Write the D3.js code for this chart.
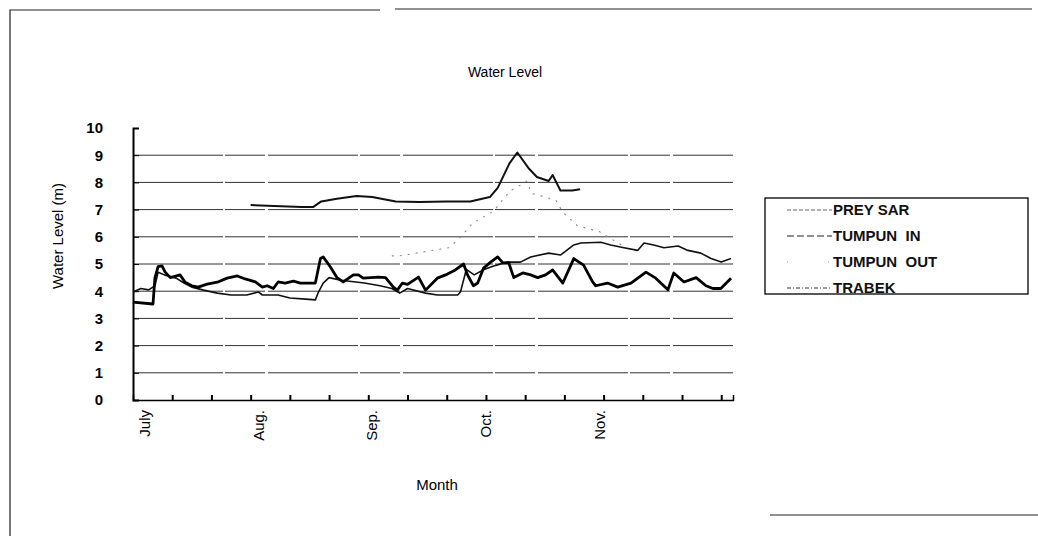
<!DOCTYPE html>
<html>
<head>
<meta charset="utf-8">
<script src="https://cdn.jsdelivr.net/npm/d3@7"></script>
<style>
  body { margin: 0; background: #fff; }
  svg { display: block; font-family: "Liberation Sans", Arial, sans-serif; }
</style>
</head>
<body>
<svg id="stage" width="1038" height="536"></svg>
<script>
// values; x is days since 1 July
const seriesNames = ["PREY SAR", "TUMPUN  IN", "TUMPUN  OUT", "TRABEK"];

const preySar = [
  [30, 7.17], [36, 7.13], [43, 7.1], [46, 7.1], [48, 7.3], [52, 7.4], [57, 7.5],
  [61, 7.46], [67, 7.3], [73, 7.28], [80, 7.3], [86, 7.3], [91, 7.46], [93, 7.8],
  [96, 8.7], [98, 9.1], [101, 8.5], [103, 8.2], [106, 8.05], [107, 8.27],
  [109, 7.7], [112, 7.7], [114, 7.75]
];

const tumpunIn = [
  [0, 3.97], [2, 4.1], [4, 4.05], [5.6, 4.2], [6.4, 4.7], [8, 4.6], [11, 4.48],
  [13, 4.3], [15, 4.15], [18, 4.04], [21.5, 3.93], [25, 3.86], [29, 3.86],
  [32, 3.97], [33, 3.86], [37, 3.86], [40, 3.75], [44, 3.71], [46.5, 3.68],
  [47.3, 3.97], [48.5, 4.3], [50, 4.5], [53, 4.4], [59, 4.3], [63, 4.2],
  [66, 4.1], [68, 3.93], [70, 4.1], [74.6, 3.93], [77.6, 3.86], [82.8, 3.86],
  [83.5, 3.97], [85, 4.8], [87, 4.6], [89.5, 4.8], [92.5, 4.95], [95.5, 5.07],
  [98.8, 5.07], [101.4, 5.26], [106, 5.4], [109, 5.33], [112.4, 5.7],
  [114.2, 5.77], [119.3, 5.8], [121.8, 5.7], [125.2, 5.6], [128.7, 5.5],
  [130.3, 5.77], [132.8, 5.7], [135.4, 5.6], [139, 5.66], [141.5, 5.5],
  [144.8, 5.4], [147.4, 5.2], [150, 5.07], [152.5, 5.2]
];

const tumpunOut = [
  [66, 5.3], [68, 5.3], [80.5, 5.6], [83, 5.9], [86.6, 6.5], [92, 6.95],
  [94.5, 7.4], [96.3, 7.7], [98.8, 7.9], [100.4, 8.05], [101.6, 7.6],
  [107.8, 7.35], [109.6, 6.9], [113.4, 6.4], [118.8, 6.2], [125.7, 5.6]
];

const trabek = [
  [0, 3.6], [5.1, 3.53], [5.6, 4.5], [6.4, 4.9], [7.4, 4.93], [8.2, 4.7],
  [9.5, 4.5], [12, 4.6], [13.3, 4.33], [15, 4.2], [16.6, 4.15], [18.9, 4.26],
  [21.5, 4.33], [24, 4.48], [26.6, 4.56], [28.6, 4.45], [31.2, 4.34],
  [33, 4.15], [34.2, 4.2], [35.8, 4.1], [37, 4.34], [38.8, 4.3], [40.9, 4.37],
  [42.7, 4.3], [46.5, 4.3], [47.8, 5.2], [48.5, 5.26], [50.3, 4.9], [52, 4.5],
  [53.6, 4.34], [56.2, 4.6], [57.5, 4.6], [58.7, 4.48], [62.6, 4.52],
  [64.4, 4.5], [66.4, 4.15], [67.4, 4.04], [68.7, 4.3], [70, 4.25],
  [72.8, 4.52], [74.6, 4.04], [77.6, 4.48], [79.7, 4.6], [82.2, 4.78],
  [84.3, 5.0], [85.3, 4.6], [86.8, 4.2], [87.9, 4.3], [89.4, 4.85],
  [91.2, 5.07], [93, 5.26], [94.3, 5.04], [95.8, 5.05], [97.1, 4.5],
  [99.4, 4.67], [101.4, 4.6], [103.2, 4.5], [105.2, 4.6], [107, 4.78],
  [109.6, 4.3], [112.4, 5.2], [114.9, 4.96], [117.2, 4.34], [118, 4.2],
  [121, 4.3], [123.6, 4.15], [127, 4.3], [130.8, 4.7], [133.3, 4.48],
  [136.4, 4.05], [137.9, 4.67], [140.5, 4.34], [143.6, 4.5], [146.1, 4.2],
  [147.9, 4.1], [149.9, 4.1], [152.5, 4.48]
];

const monthLabels = ["July", "Aug.", "Sep.", "Oct.", "Nov."];
const monthLabelDays = [3, 32, 61, 90, 119];
const tickDays = d3.range(10, 151, 10);
const yTicks = d3.range(0, 11);
const gridValues = d3.range(1, 10);

const seriesData = [preySar, tumpunIn, tumpunOut, trabek];
const seriesStyle = [
  { stroke: "#111", width: 2, dash: null, sample: "4,2", sampleColor: "#666", sampleWidth: 1 },
  { stroke: "#111", width: 1.6, dash: null, sample: "7,3", sampleColor: "#222", sampleWidth: 1.2 },
  { stroke: "#888", width: 1.1, dash: "2,6", sample: "1,40", sampleColor: "#999", sampleWidth: 1 },
  { stroke: "#000", width: 2.8, dash: null, sample: "4,2,1,2", sampleColor: "#333", sampleWidth: 1 }
];

const svg = d3.select("#stage");

// frame of the scanned chart area
svg.append("path")
  .attr("d", "M10,536 V10 H380 M395,9 H1032 M770,515 H1038")
  .attr("fill", "none").attr("stroke", "#222").attr("stroke-width", 1.2);

const x = d3.scaleLinear().domain([0, 153]).range([133, 733]);
const y = d3.scaleLinear().domain([0, 10]).range([400, 128]);

// gridlines
svg.append("g")
  .selectAll("line")
  .data(gridValues)
  .join("line")
  .attr("x1", x(0)).attr("x2", x(153))
  .attr("y1", (d) => y(d)).attr("y2", (d) => y(d))
  .attr("stroke", "#333").attr("stroke-width", 1)
  .attr("stroke-dasharray", "90,2,40,3");

// y axis
const yAxis = svg.append("g")
  .attr("transform", `translate(${x(0)},0)`)
  .call(d3.axisLeft(y).tickValues(yTicks).tickSize(-6).tickPadding(30).tickFormat(d3.format("d")));
yAxis.select(".domain").attr("stroke", "#000").attr("stroke-width", 2);
yAxis.selectAll(".tick line").attr("stroke", "#000");
yAxis.selectAll("text")
  .attr("font-size", 15).attr("font-weight", "bold").attr("fill", "#000")
  .attr("font-family", "'Liberation Sans', Arial, sans-serif");

// x axis: small ticks every 10 days, month labels
const xAxis = svg.append("g")
  .attr("transform", `translate(0,${y(0)})`)
  .call(d3.axisBottom(x).tickValues(tickDays).tickSize(-5).tickFormat(""));
xAxis.select(".domain").attr("stroke", "#000").attr("stroke-width", 1.5);
xAxis.selectAll(".tick line").attr("stroke", "#000").attr("stroke-width", 2);

svg.append("g")
  .selectAll("text")
  .data(monthLabels)
  .join("text")
  .attr("transform", (d, i) => `translate(${x(monthLabelDays[i])},410) rotate(-90)`)
  .attr("dy", "0.35em")
  .attr("text-anchor", "end")
  .attr("font-size", 15)
  .attr("fill", "#000")
  .text((d) => d);

// series lines
const line = d3.line().x((d) => x(d[0])).y((d) => y(d[1]));
svg.append("g")
  .selectAll("path")
  .data(seriesData)
  .join("path")
  .attr("d", line)
  .attr("fill", "none")
  .attr("stroke", (d, i) => seriesStyle[i].stroke)
  .attr("stroke-width", (d, i) => seriesStyle[i].width)
  .attr("stroke-dasharray", (d, i) => seriesStyle[i].dash)
  .attr("stroke-linejoin", "round");

// titles
svg.append("text")
  .attr("x", 505).attr("y", 77)
  .attr("text-anchor", "middle")
  .attr("font-size", 14)
  .text("Water Level");

svg.append("text")
  .attr("transform", "translate(63,236) rotate(-90)")
  .attr("text-anchor", "middle")
  .attr("font-size", 15)
  .text("Water Level (m)");

svg.append("text")
  .attr("x", 437).attr("y", 490)
  .attr("text-anchor", "middle")
  .attr("font-size", 15)
  .text("Month");

// legend
const legend = svg.append("g").attr("transform", "translate(765,198)");
legend.append("rect")
  .attr("width", 263).attr("height", 96)
  .attr("fill", "none").attr("stroke", "#000").attr("stroke-width", 1.3);

const rows = legend.selectAll("g.row")
  .data(seriesNames)
  .join("g")
  .attr("class", "row")
  .attr("transform", (d, i) => `translate(0,${12 + i * 26})`);
rows.append("line")
  .attr("x1", 22).attr("x2", 67)
  .attr("stroke", (d, i) => seriesStyle[i].sampleColor)
  .attr("stroke-width", (d, i) => seriesStyle[i].sampleWidth)
  .attr("stroke-dasharray", (d, i) => seriesStyle[i].sample);
rows.append("text")
  .attr("x", 68).attr("dy", "0.35em")
  .attr("font-size", 15)
  .attr("font-weight", "bold")
  .attr("fill", "#111")
  .style("white-space", "pre")
  .text((d) => d);
</script>
</body>
</html>
